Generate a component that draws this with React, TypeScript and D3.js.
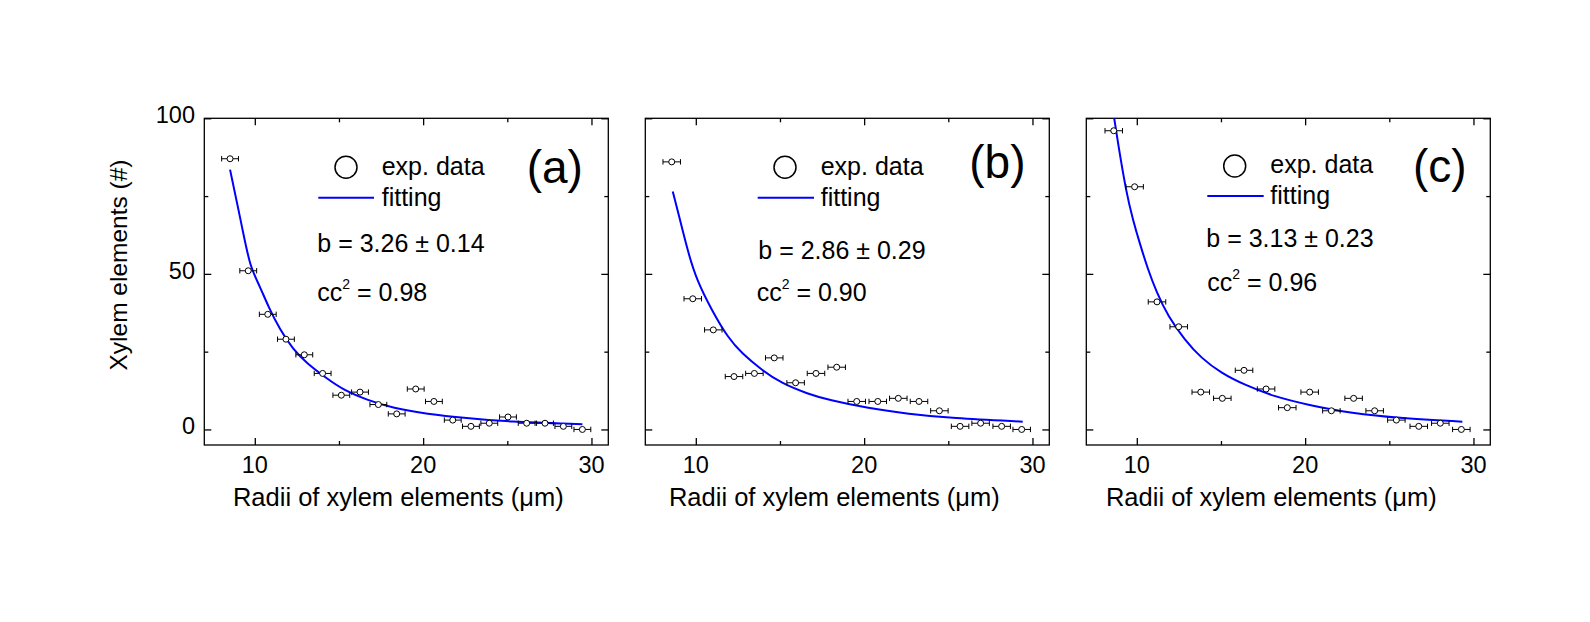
import React, { useEffect, useRef } from "react";
import * as d3 from "d3";

// ---- panel (a) ----
const radiiA = [8.53, 9.61, 10.77, 11.85, 12.94, 14.03, 15.14, 16.25, 17.34, 18.43, 19.56, 20.64, 21.76, 22.84, 23.93, 25.04, 26.15, 27.24, 28.33, 29.46];
const countA = [87, 51, 37, 29, 24, 18, 11, 12, 8, 5, 13, 9, 3, 1, 2, 4, 2, 2, 1, 0];
const fitXA = [8.53, 9.32, 9.71, 10.31, 10.8, 11.5, 12.29, 13.08, 14.27, 15.26, 16.65, 18.23, 20.21, 22.59, 24.97, 29.46];
const fitYA = [83.5, 63.1, 52.4, 45.9, 39.5, 32.0, 25.6, 21.3, 16.4, 12.7, 9.5, 6.8, 5.0, 3.6, 2.5, 1.7];

// ---- panel (b) ----
const radiiB = [8.57, 9.82, 11.04, 12.27, 13.48, 14.66, 15.93, 17.14, 18.37, 19.56, 20.81, 22.03, 23.26, 24.47, 25.7, 26.92, 28.17, 29.36];
const countB = [86, 42, 32, 17, 18, 23, 15, 18, 20, 9, 9, 10, 9, 6, 1, 2, 1, 0];
const fitXB = [8.63, 8.96, 9.55, 10.05, 10.94, 11.93, 12.73, 13.92, 15.1, 16.68, 17.87, 20.25, 22.62, 25.2, 29.42];
const fitYB = [76.5, 69.6, 56.7, 48.1, 38.4, 29.3, 24.5, 19.1, 14.8, 11.4, 9.5, 6.8, 5.0, 3.6, 2.5];

// ---- panel (c) ----
const radiiC = [8.63, 9.87, 11.2, 12.49, 13.8, 15.08, 16.37, 17.68, 18.94, 20.27, 21.56, 22.88, 24.13, 25.42, 26.75, 28.03, 29.28];
const countC = [96, 78, 41, 33, 12, 10, 19, 13, 7, 12, 6, 10, 6, 3, 1, 2, 0];
const fitXC = [8.63, 8.88, 9.38, 9.77, 10.17, 10.67, 11.16, 11.86, 12.85, 13.83, 15.02, 16.41, 18.19, 20.17, 22.74, 25.71, 29.34];
const fitYC = [101, 92.1, 76.0, 67.4, 59.9, 51.3, 44.3, 36.3, 28.8, 22.9, 18.1, 14.3, 10.5, 7.9, 5.2, 3.6, 2.5];

const radiusErr = [0.5, 0.52, 0.52];
const panelTags = ["(a)", "(b)", "(c)"];
const slopeText = ["b = 3.26 ± 0.14", "b = 2.86 ± 0.29", "b = 3.13 ± 0.23"];
const ccText = ["0.98", "0.90", "0.96"];

const xMajor = [10, 20, 30];
const xMinor = [15, 25];
const yMajor = [0, 50, 100];
const yMinor = [25, 75];

// layout (pixels, relative to each panel's plot area)
const W = 1590, H = 622;
const TOP = 118.3, BOTTOM = 445, PW = 404;
const lefts = [204.3, 645.3, 1086.3];
const layouts = [
  { cx: 141.7, cy: 49, tx: 177.4, expY: 56.7, lx1: 114, lx2: 169.7, ly: 79.4, fitY: 87.7, tagX: 322.4, tagY: 65, bx: 113, bY: 133.4, ccx: 113, ccY: 182.4, labDx: -8 },
  { cx: 139.7, cy: 49, tx: 175.4, expY: 56.7, lx1: 112.4, lx2: 168.7, ly: 79.4, fitY: 87.7, tagX: 324, tagY: 60, bx: 113, bY: 140.7, ccx: 111.4, ccY: 182.4, labDx: -13 },
  { cx: 148.4, cy: 47.7, tx: 184, expY: 55, lx1: 121, lx2: 177.4, ly: 77.7, fitY: 86, tagX: 326.7, tagY: 63.7, bx: 120, bY: 128.4, ccx: 121, ccY: 172.7, labDx: -17 },
];

const FONT = "'Liberation Sans', Arial, sans-serif";

export default function App() {
  const svgRef = useRef<SVGSVGElement>(null);

  useEffect(() => {
    if (!svgRef.current) return;
    d3.select(svgRef.current).selectAll("*").remove();

    const svg = d3.select(svgRef.current)
      .attr("width", W)
      .attr("height", H)
      .style("font-family", FONT);

    svg.append("rect").attr("width", W).attr("height", H).attr("fill", "#fff");

    const panels = [
      { xs: radiiA, ys: countA, fx: fitXA, fy: fitYA },
      { xs: radiiB, ys: countB, fx: fitXB, fy: fitYB },
      { xs: radiiC, ys: countC, fx: fitXC, fy: fitYC },
    ];

    const y = d3.scaleLinear().domain([-5, 100]).range([BOTTOM, TOP]);

    panels.forEach((p, i) => {
      const left = lefts[i];
      const L = layouts[i];
      const x = d3.scaleLinear().domain([7, 31]).range([left, left + PW]);
      const g = svg.append("g");

      const clipId = `clip-${i}`;
      g.append("clipPath").attr("id", clipId)
        .append("rect").attr("x", left).attr("y", TOP).attr("width", PW).attr("height", BOTTOM - TOP);

      // ticks (inward, all four sides)
      const tickAxis = (axis: any, tr: string) => {
        g.append("g").attr("transform", tr).call(axis)
          .call((s: any) => s.select(".domain").remove())
          .selectAll("line").attr("stroke", "#000").attr("stroke-width", 1.3);
      };
      tickAxis(d3.axisBottom(x).tickValues(xMajor).tickSize(-7).tickFormat(() => ""), `translate(0,${BOTTOM})`);
      tickAxis(d3.axisBottom(x).tickValues(xMinor).tickSize(-4).tickFormat(() => ""), `translate(0,${BOTTOM})`);
      tickAxis(d3.axisTop(x).tickValues(xMajor).tickSize(-7).tickFormat(() => ""), `translate(0,${TOP})`);
      tickAxis(d3.axisTop(x).tickValues(xMinor).tickSize(-4).tickFormat(() => ""), `translate(0,${TOP})`);
      tickAxis(d3.axisLeft(y).tickValues(yMajor).tickSize(-7).tickFormat(() => ""), `translate(${left},0)`);
      tickAxis(d3.axisLeft(y).tickValues(yMinor).tickSize(-4).tickFormat(() => ""), `translate(${left},0)`);
      tickAxis(d3.axisRight(y).tickValues(yMajor).tickSize(-7).tickFormat(() => ""), `translate(${left + PW},0)`);
      tickAxis(d3.axisRight(y).tickValues(yMinor).tickSize(-4).tickFormat(() => ""), `translate(${left + PW},0)`);

      // frame
      g.append("rect")
        .attr("x", left).attr("y", TOP).attr("width", PW).attr("height", BOTTOM - TOP)
        .attr("fill", "none").attr("stroke", "#000").attr("stroke-width", 1.3);

      // x tick labels
      g.selectAll(".xl").data(xMajor).enter().append("text")
        .attr("x", d => x(d)).attr("y", 472.7)
        .attr("text-anchor", "middle").style("font-size", "23.5px")
        .text(d => d);

      if (i === 0) {
        g.selectAll(".yl").data(yMajor).enter().append("text")
          .attr("x", left - 9.3).attr("y", d => y(d) + 5)
          .attr("text-anchor", "end").style("font-size", "23.5px")
          .text(d => d);
        g.append("text")
          .attr("transform", `translate(126.7,265) rotate(-90)`)
          .attr("text-anchor", "middle").style("font-size", "24.5px")
          .text("Xylem elements (#)");
      }

      g.append("text")
        .attr("x", left + PW / 2 + L.labDx).attr("y", 506)
        .attr("text-anchor", "middle").style("font-size", "25.5px")
        .text("Radii of xylem elements (μm)");

      // fitting curve
      const line = d3.line<number>()
        .x((_, k) => x(p.fx[k]))
        .y(d => y(d))
        .curve(d3.curveBasis);
      g.append("path")
        .datum(p.fy)
        .attr("clip-path", `url(#${clipId})`)
        .attr("fill", "none").attr("stroke", "#0000ff").attr("stroke-width", 2)
        .attr("d", line);

      // data with x error bars
      const err = radiusErr[i];
      const pts = g.append("g").selectAll("g").data(p.xs).enter().append("g");
      pts.append("line")
        .attr("x1", d => x(d - err)).attr("x2", d => x(d + err))
        .attr("y1", (_, k) => y(p.ys[k])).attr("y2", (_, k) => y(p.ys[k]))
        .attr("stroke", "#000").attr("stroke-width", 1);
      [-1, 1].forEach(s => {
        pts.append("line")
          .attr("x1", d => x(d + s * err)).attr("x2", d => x(d + s * err))
          .attr("y1", (_, k) => y(p.ys[k]) - 2.7).attr("y2", (_, k) => y(p.ys[k]) + 2.7)
          .attr("stroke", "#000").attr("stroke-width", 1);
      });
      pts.append("circle")
        .attr("cx", d => x(d)).attr("cy", (_, k) => y(p.ys[k]))
        .attr("r", 3).attr("fill", "#fff").attr("stroke", "#000").attr("stroke-width", 1);

      // legend and annotations
      g.append("circle")
        .attr("cx", left + L.cx).attr("cy", TOP + L.cy).attr("r", 11)
        .attr("fill", "none").attr("stroke", "#000").attr("stroke-width", 1.5);
      g.append("text").attr("x", left + L.tx).attr("y", TOP + L.expY)
        .style("font-size", "25px").text("exp. data");
      g.append("line")
        .attr("x1", left + L.lx1).attr("x2", left + L.lx2)
        .attr("y1", TOP + L.ly).attr("y2", TOP + L.ly)
        .attr("stroke", "#0000ff").attr("stroke-width", 2);
      g.append("text").attr("x", left + L.tx).attr("y", TOP + L.fitY)
        .style("font-size", "25px").text("fitting");
      g.append("text").attr("x", left + L.tagX).attr("y", TOP + L.tagY)
        .style("font-size", "46px").text(panelTags[i]);
      g.append("text").attr("x", left + L.bx).attr("y", TOP + L.bY)
        .style("font-size", "25px").text(slopeText[i]);
      const cc = g.append("text").attr("x", left + L.ccx).attr("y", TOP + L.ccY)
        .style("font-size", "25px");
      cc.append("tspan").text("cc");
      cc.append("tspan").attr("dy", -12).style("font-size", "14px").text("2");
      cc.append("tspan").attr("dy", 12).text(" = " + ccText[i]);
    });
  }, []);

  return (
    <div style={{ position: "absolute", left: 0, top: 0 }}>
      <svg ref={svgRef} style={{ display: "block" }}></svg>
    </div>
  );
}
